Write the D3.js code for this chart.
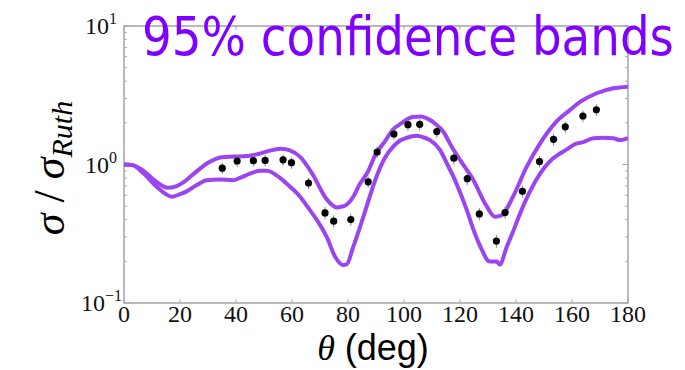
<!DOCTYPE html>
<html>
<head>
<meta charset="utf-8">
<script src="https://cdn.jsdelivr.net/npm/d3@7"></script>
<style>
  body { margin: 0; background: #fff; }
</style>
</head>
<body>
<div id="chart"></div>
<script>
// measured angles (deg) and sigma/sigma_Ruth
const dataAngles = [35.1, 40.4, 46.2, 50.4, 56.8, 59.8, 65.9, 71.8, 74.9, 81.0, 87.2, 90.4, 96.4, 101.4,
  105.6, 111.7, 117.8, 122.6, 126.9, 133.0, 136.1, 142.3, 148.4, 153.4, 157.6, 163.9, 168.7];
const dataValues = [0.94, 1.06, 1.065, 1.07, 1.08, 1.03, 0.735, 0.447, 0.39, 0.40, 0.75, 1.23, 1.66, 1.94,
  1.95, 1.73, 1.11, 0.79, 0.44, 0.28, 0.45, 0.64, 1.05, 1.52, 1.87, 2.24, 2.48];
const dataErrors = [0.09, 0.1, 0.1, 0.1, 0.1, 0.1, 0.07, 0.045, 0.04, 0.04, 0.07, 0.12, 0.16, 0.19,
  0.19, 0.17, 0.11, 0.08, 0.045, 0.03, 0.045, 0.065, 0.1, 0.15, 0.18, 0.22, 0.24];

// upper edge of the 95% band
const upperAngles = [0, 3, 6, 9, 12, 15.5, 18, 21, 25, 30, 35, 39, 44, 48, 52, 56, 59, 63, 67.5, 72.4, 76, 78.5,
  82, 84, 87, 90, 93, 96, 99, 103, 106, 108, 111, 114, 117, 120, 124.8, 129.5, 132.5, 134.9, 139, 143.8,
  148.6, 154.5, 159, 163, 168.8, 174.8, 180];
const upperValues = [1.0, 0.99, 0.93, 0.83, 0.74, 0.68, 0.69, 0.74, 0.86, 1.03, 1.13, 1.14, 1.15, 1.19, 1.26, 1.3,
  1.27, 1.13, 0.84, 0.56, 0.49, 0.5, 0.59, 0.71, 0.88, 1.2, 1.45, 1.78, 1.98, 2.2, 2.22, 2.16, 1.98, 1.73,
  1.35, 1.08, 0.77, 0.5, 0.42, 0.43, 0.59, 0.96, 1.42, 2.05, 2.45, 2.84, 3.27, 3.55, 3.65];

// lower edge of the 95% band
const lowerAngles = [0, 3, 7, 11.7, 15, 17, 20, 22.4, 26, 29.5, 34, 39, 41.4, 45, 48.6, 51, 55.7, 59, 62.9, 66,
  68.8, 72.4, 75.4, 78.3, 79.5, 81.9, 85.5, 90.2, 93, 96.2, 98.6, 101, 104.5, 107, 109.3, 112.9, 115.3,
  117.6, 120, 122.4, 125, 127.1, 130.7, 133.1, 134.2, 136.7, 139, 141.4, 145, 148.6, 152, 155.7, 158,
  161.7, 164, 167.6, 171, 174.8, 177, 180];
const lowerValues = [1.0, 0.99, 0.86, 0.69, 0.61, 0.585, 0.61, 0.64, 0.71, 0.77, 0.78, 0.77, 0.8, 0.86, 0.9, 0.9,
  0.8, 0.7, 0.585, 0.48, 0.4, 0.3, 0.216, 0.188, 0.19, 0.255, 0.42, 0.82, 1.1, 1.35, 1.49, 1.56, 1.61, 1.57,
  1.5, 1.27, 1.02, 0.82, 0.63, 0.47, 0.33, 0.26, 0.199, 0.199, 0.19, 0.255, 0.33, 0.44, 0.64, 0.86, 1.05,
  1.2, 1.28, 1.42, 1.45, 1.55, 1.56, 1.55, 1.5, 1.55];

const xTicks = [0, 20, 40, 60, 80, 100, 120, 140, 160, 180];
const yTicks = [0.1, 1, 10];
const yTickExps = ["\u22121", "0", "1"];

const width = 685, height = 370;
const plotLeft = 124, plotRight = 628, plotTop = 26, plotBottom = 303;
const serif = "'Liberation Serif', 'DejaVu Serif', serif";

const svg = d3.select("#chart").append("svg").attr("width", width).attr("height", height);

const x = d3.scaleLinear().domain([0, 180]).range([plotLeft, plotRight]);
const y = d3.scaleLog().domain([0.1, 10]).range([plotBottom, plotTop]);

svg.append("defs").append("clipPath").attr("id", "plotClip")
  .append("rect").attr("x", plotLeft).attr("y", plotTop)
  .attr("width", plotRight - plotLeft).attr("height", plotBottom - plotTop);

// frame
svg.append("rect")
  .attr("x", plotLeft).attr("y", plotTop)
  .attr("width", plotRight - plotLeft).attr("height", plotBottom - plotTop)
  .attr("fill", "none").attr("stroke", "#8c8c8c").attr("stroke-width", 1.2);

// ticks (inward)
const minor = [];
[0.1, 1].forEach(function (d) {
  for (let k = 2; k <= 9; k++) minor.push(d * k);
});
const tickG = svg.append("g").attr("stroke", "#aaa").attr("stroke-width", 1);
minor.forEach(function (v) {
  tickG.append("line").attr("x1", plotLeft).attr("x2", plotLeft + 3).attr("y1", y(v)).attr("y2", y(v));
  tickG.append("line").attr("x1", plotRight).attr("x2", plotRight - 3).attr("y1", y(v)).attr("y2", y(v));
});
yTicks.forEach(function (v) {
  tickG.append("line").attr("x1", plotLeft).attr("x2", plotLeft + 6).attr("y1", y(v)).attr("y2", y(v));
  tickG.append("line").attr("x1", plotRight).attr("x2", plotRight - 6).attr("y1", y(v)).attr("y2", y(v));
});
xTicks.forEach(function (v) {
  tickG.append("line").attr("x1", x(v)).attr("x2", x(v)).attr("y1", plotBottom).attr("y2", plotBottom - 4);
  tickG.append("line").attr("x1", x(v)).attr("x2", x(v)).attr("y1", plotTop).attr("y2", plotTop + 4);
});

// tick labels
svg.append("g").selectAll("text").data(xTicks).enter().append("text")
  .attr("x", function (d) { return x(d); })
  .attr("y", 322)
  .attr("text-anchor", "middle")
  .style("font-family", serif)
  .style("font-size", "24px")
  .attr("fill", "#111")
  .text(function (d) { return d; });

const yLab = svg.append("g").selectAll("text").data(yTicks).enter().append("text")
  .attr("x", function (d, i) { return i === 0 ? 122 : 117; })
  .attr("y", function (d) { return y(d) + 8; })
  .attr("text-anchor", "end")
  .style("font-family", serif)
  .style("font-size", "24px")
  .attr("fill", "#111");
yLab.append("tspan").text("10");
yLab.append("tspan")
  .attr("dy", -10)
  .style("font-size", "16px")
  .text(function (d, i) { return yTickExps[i]; });

// bands
const line = d3.line()
  .x(function (d) { return x(d[0]); })
  .y(function (d) { return y(d[1]); })
  .curve(d3.curveMonotoneX);

const plot = svg.append("g").attr("clip-path", "url(#plotClip)");
[[upperAngles, upperValues], [lowerAngles, lowerValues]].forEach(function (s) {
  plot.append("path")
    .datum(d3.zip(s[0], s[1]))
    .attr("d", line)
    .attr("fill", "none")
    .attr("stroke", "#9b45f2")
    .attr("stroke-width", 4)
    .attr("stroke-linejoin", "round");
});

// data points with error bars
const pts = d3.zip(dataAngles, dataValues, dataErrors);
plot.append("g").selectAll("line").data(pts).enter().append("line")
  .attr("x1", function (d) { return x(d[0]); })
  .attr("x2", function (d) { return x(d[0]); })
  .attr("y1", function (d) { return y(d[1] - d[2]); })
  .attr("y2", function (d) { return y(d[1] + d[2]); })
  .attr("stroke", "#888")
  .attr("stroke-width", 1);
plot.append("g").selectAll("circle").data(pts).enter().append("circle")
  .attr("cx", function (d) { return x(d[0]); })
  .attr("cy", function (d) { return y(d[1]); })
  .attr("r", 3.6)
  .attr("fill", "#000");

// axis titles
const xt = svg.append("text")
  .attr("x", 373).attr("y", 360)
  .attr("text-anchor", "middle")
  .style("font-size", "36px")
  .attr("fill", "#000");
xt.append("tspan").style("font-family", serif).style("font-style", "italic").text("\u03b8");
xt.append("tspan").style("font-family", "'Liberation Sans', Arial, sans-serif").text(" (deg)");

const yt = svg.append("text")
  .attr("transform", "translate(64,168) rotate(-90)")
  .attr("text-anchor", "middle")
  .style("font-family", serif)
  .style("font-style", "italic")
  .style("font-size", "44px")
  .attr("fill", "#000");
yt.append("tspan").text("\u03c3");
yt.append("tspan").style("font-style", "normal").text(" / ");
yt.append("tspan").text("\u03c3");
yt.append("tspan").attr("dy", 8).style("font-size", "30px").text("Ruth");

// title
svg.append("text")
  .attr("x", 142).attr("y", 55)
  .attr("textLength", 532)
  .attr("lengthAdjust", "spacingAndGlyphs")
  .style("font-family", "'DejaVu Sans', sans-serif")
  .style("font-size", "54px")
  .attr("fill", "#8000ff")
  .text("95% confidence bands");
</script>
</body>
</html>
